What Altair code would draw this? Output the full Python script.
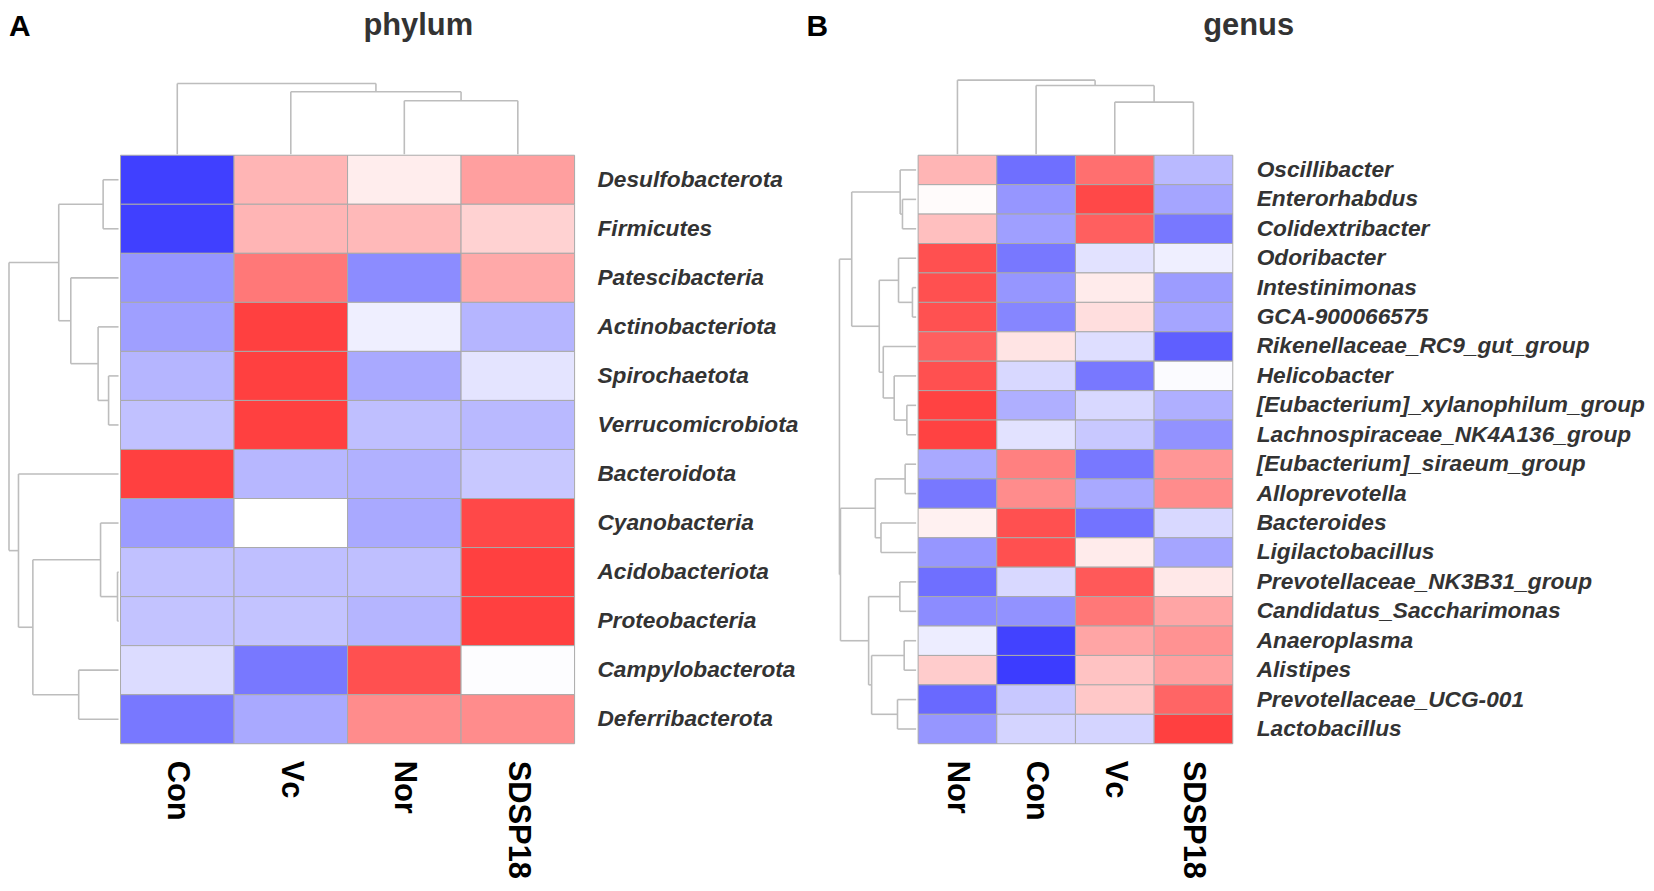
import altair as alt
import pandas as pd

# ---------------- data: panel A (phylum) ----------------
phylum_rows = ["Desulfobacterota", "Firmicutes", "Patescibacteria", "Actinobacteriota",
               "Spirochaetota", "Verrucomicrobiota", "Bacteroidota", "Cyanobacteria",
               "Acidobacteriota", "Proteobacteria", "Campylobacterota", "Deferribacterota"]
phylum_cols = ["Con", "Vc", "Nor", "SDSP18"]
phylum_con = [-0.98, -0.98, -0.54, -0.49, -0.38, -0.32, 0.98, -0.51, -0.32, -0.31, -0.18, -0.69]
phylum_vc = [0.38, 0.38, 0.69, 0.98, 0.98, 0.98, -0.37, 0.00, -0.33, -0.31, -0.69, -0.44]
phylum_nor = [0.09, 0.36, -0.59, -0.08, -0.44, -0.33, -0.40, -0.44, -0.33, -0.38, 0.90, 0.59]
phylum_sdsp = [0.49, 0.23, 0.44, -0.38, -0.14, -0.36, -0.28, 0.94, 0.98, 0.98, -0.01, 0.59]

# row clustering (child, child, relative merge height)
phylum_row_merges = [
    ("Acidobacteriota", "Proteobacteria", 0.027),
    ("Spirochaetota", "Verrucomicrobiota", 0.107),
    ("Desulfobacterota", "Firmicutes", 0.156),
    ("Cyanobacteria", "m0", 0.179),
    ("Actinobacteriota", "m1", 0.201),
    ("Campylobacterota", "Deferribacterota", 0.375),
    ("Patescibacteria", "m4", 0.446),
    ("m2", "m6", 0.554),
    ("m3", "m5", 0.786),
    ("Bacteroidota", "m8", 0.915),
    ("m7", "m9", 1.000),
]
phylum_col_merges = [
    ("Nor", "SDSP18", 0.760),
    ("Vc", "m0", 0.885),
    ("Con", "m1", 1.000),
]

# ---------------- data: panel B (genus) ----------------
genus_rows = ["Oscillibacter", "Enterorhabdus", "Colidextribacter", "Odoribacter",
              "Intestinimonas", "GCA-900066575", "Rikenellaceae_RC9_gut_group", "Helicobacter",
              "[Eubacterium]_xylanophilum_group", "Lachnospiraceae_NK4A136_group",
              "[Eubacterium]_siraeum_group", "Alloprevotella", "Bacteroides", "Ligilactobacillus",
              "Prevotellaceae_NK3B31_group", "Candidatus_Saccharimonas", "Anaeroplasma",
              "Alistipes", "Prevotellaceae_UCG-001", "Lactobacillus"]
genus_cols = ["Nor", "Con", "Vc", "SDSP18"]
genus_nor = [0.38, 0.02, 0.33, 0.90, 0.90, 0.89, 0.82, 0.90, 0.97, 0.97,
             -0.44, -0.69, 0.07, -0.54, -0.74, -0.59, -0.09, 0.26, -0.77, -0.54]
genus_con = [-0.74, -0.54, -0.49, -0.69, -0.54, -0.62, 0.14, -0.20, -0.41, -0.15,
             0.65, 0.59, 0.90, 0.90, -0.20, -0.56, -0.97, -1.00, -0.28, -0.22]
genus_vc = [0.74, 0.94, 0.82, -0.15, 0.10, 0.17, -0.17, -0.69, -0.20, -0.28,
            -0.69, -0.44, -0.72, 0.10, 0.85, 0.69, 0.46, 0.31, 0.28, -0.22]
genus_sdsp = [-0.36, -0.46, -0.69, -0.08, -0.51, -0.46, -0.82, -0.02, -0.41, -0.56,
              0.54, 0.59, -0.20, -0.46, 0.12, 0.46, 0.56, 0.49, 0.79, 0.98]

genus_row_merges = [
    ("Intestinimonas", "GCA-900066575", 0.072),
    ("[Eubacterium]_xylanophilum_group", "Lachnospiraceae_NK4A136_group", 0.143),
    ("[Eubacterium]_siraeum_group", "Alloprevotella", 0.165),
    ("Anaeroplasma", "Alistipes", 0.177),
    ("Enterorhabdus", "Colidextribacter", 0.199),
    ("Oscillibacter", "m4", 0.228),
    ("Prevotellaceae_NK3B31_group", "Candidatus_Saccharimonas", 0.232),
    ("Odoribacter", "m0", 0.249),
    ("Prevotellaceae_UCG-001", "Lactobacillus", 0.262),
    ("Helicobacter", "m1", 0.304),
    ("Rikenellaceae_RC9_gut_group", "m9", 0.443),
    ("Bacteroides", "Ligilactobacillus", 0.472),
    ("m7", "m10", 0.494),
    ("m2", "m11", 0.544),
    ("m3", "m8", 0.591),
    ("m6", "m14", 0.629),
    ("m5", "m12", 0.844),
    ("m13", "m15", 0.987),
    ("m16", "m17", 1.000),
]
genus_col_merges = [
    ("Vc", "SDSP18", 0.708),
    ("Con", "m0", 0.928),
    ("Nor", "m1", 1.000),
]

FONT = "Liberation Sans"
LINE = "#bdbdbd"
CELL_BORDER = "#a9a9a9"
color_scale = alt.Scale(domain=[-1, 0, 1], range=["#3c3cff", "#ffffff", "#ff3c3c"],
                        interpolate="rgb")


def tree_segments(leaves, merges, tree_px, gap_px):
    pos = {name: i + 0.5 for i, name in enumerate(leaves)}
    depth = {name: gap_px for name in leaves}
    segs = []
    for k, (a, b, h) in enumerate(merges):
        node = f"m{k}"
        d = h * tree_px
        pos[node] = (pos[a] + pos[b]) / 2
        depth[node] = d
        segs.append((pos[a], pos[b], d, d))
        segs.append((pos[a], pos[a], depth[a], d))
        segs.append((pos[b], pos[b], depth[b], d))
    return segs


def panel(rows, cols, series, row_merges, col_merges, cell_w, cell_h,
          row_tree_px, col_tree_px, top_px, title, letter, letter_x, label_dx):
    nr, nc = len(rows), len(cols)
    cells = []
    for c, col in enumerate(cols):
        for r, row in enumerate(rows):
            cells.append({"x": c, "x2": c + 1, "y": r, "y2": r + 1, "v": series[c][r],
                          "row": row, "col": col})
    cells = pd.DataFrame(cells)

    segs = []
    for p1, p2, d1, d2 in tree_segments(rows, row_merges, row_tree_px, 2):
        segs.append({"x": -d1 / cell_w, "x2": -d2 / cell_w, "y": p1, "y2": p2})
    for p1, p2, d1, d2 in tree_segments(cols, col_merges, col_tree_px, 1):
        segs.append({"x": p1, "x2": p2, "y": -d1 / cell_h, "y2": -d2 / cell_h})
    segs = pd.DataFrame(segs)

    row_lab = pd.DataFrame({"label": rows, "x": [nc] * nr, "y": [r + 0.5 for r in range(nr)]})
    col_lab = pd.DataFrame({"label": cols, "x": [c + 0.5 for c in range(nc)], "y": [nr] * nc})

    xs = alt.Scale(domain=[-row_tree_px / cell_w, nc], nice=False, zero=False)
    ys = alt.Scale(domain=[-top_px / cell_h, nr], nice=False, zero=False, reverse=True)

    rect = alt.Chart(cells).mark_rect(stroke=CELL_BORDER, strokeWidth=1).encode(
        x=alt.X("x:Q", scale=xs, axis=None), x2="x2:Q",
        y=alt.Y("y:Q", scale=ys, axis=None), y2="y2:Q",
        color=alt.Color("v:Q", scale=color_scale, legend=None),
    )
    dend = alt.Chart(segs).mark_rule(color=LINE, strokeWidth=1.6).encode(
        x=alt.X("x:Q", scale=xs, axis=None), x2="x2:Q",
        y=alt.Y("y:Q", scale=ys, axis=None), y2="y2:Q",
    )
    rlab = alt.Chart(row_lab).mark_text(
        align="left", baseline="middle", dx=label_dx, font=FONT, fontSize=22.8,
        fontWeight="bold", fontStyle="italic", color="#333333",
    ).encode(x=alt.X("x:Q", scale=xs, axis=None), y=alt.Y("y:Q", scale=ys, axis=None),
             text="label:N")
    clab = alt.Chart(col_lab).mark_text(
        align="left", baseline="middle", angle=90, dx=17, font=FONT, fontSize=31,
        fontWeight="bold", color="#000000",
    ).encode(x=alt.X("x:Q", scale=xs, axis=None), y=alt.Y("y:Q", scale=ys, axis=None),
             text="label:N")
    ttl = alt.Chart(pd.DataFrame({"t": [title]})).mark_text(
        align="center", baseline="top", font=FONT, fontSize=31, fontWeight="bold",
        color="#333333",
    ).encode(x=alt.value(411), y=alt.value(-69), text="t:N")
    let = alt.Chart(pd.DataFrame({"t": [letter]})).mark_text(
        align="left", baseline="top", font=FONT, fontSize=30, fontWeight="bold",
        color="#000000",
    ).encode(x=alt.value(letter_x), y=alt.value(-68), text="t:N")

    width = row_tree_px + nc * cell_w
    height = top_px + nr * cell_h
    return alt.layer(rect, dend, rlab, clab, ttl, let).properties(width=width, height=height)


TOP = 76
pa = panel(phylum_rows, phylum_cols, [phylum_con, phylum_vc, phylum_nor, phylum_sdsp],
           phylum_row_merges, phylum_col_merges, cell_w=114, cell_h=49.25,
           row_tree_px=112, col_tree_px=72, top_px=TOP, title="phylum", letter="A",
           letter_x=0, label_dx=23)
pb = panel(genus_rows, genus_cols, [genus_nor, genus_con, genus_vc, genus_sdsp],
           genus_row_merges, genus_col_merges, cell_w=79, cell_h=29.55,
           row_tree_px=79, col_tree_px=75.4, top_px=TOP, title="genus", letter="B",
           letter_x=-33, label_dx=24)

chart = alt.hconcat(pa, pb, spacing=266, bounds="flush").properties(
    padding={"left": 0, "top": 0, "right": 0, "bottom": 0}
).configure_view(stroke=None)

chart.save("out.html", embed_options={"renderer": "svg", "actions": False})
